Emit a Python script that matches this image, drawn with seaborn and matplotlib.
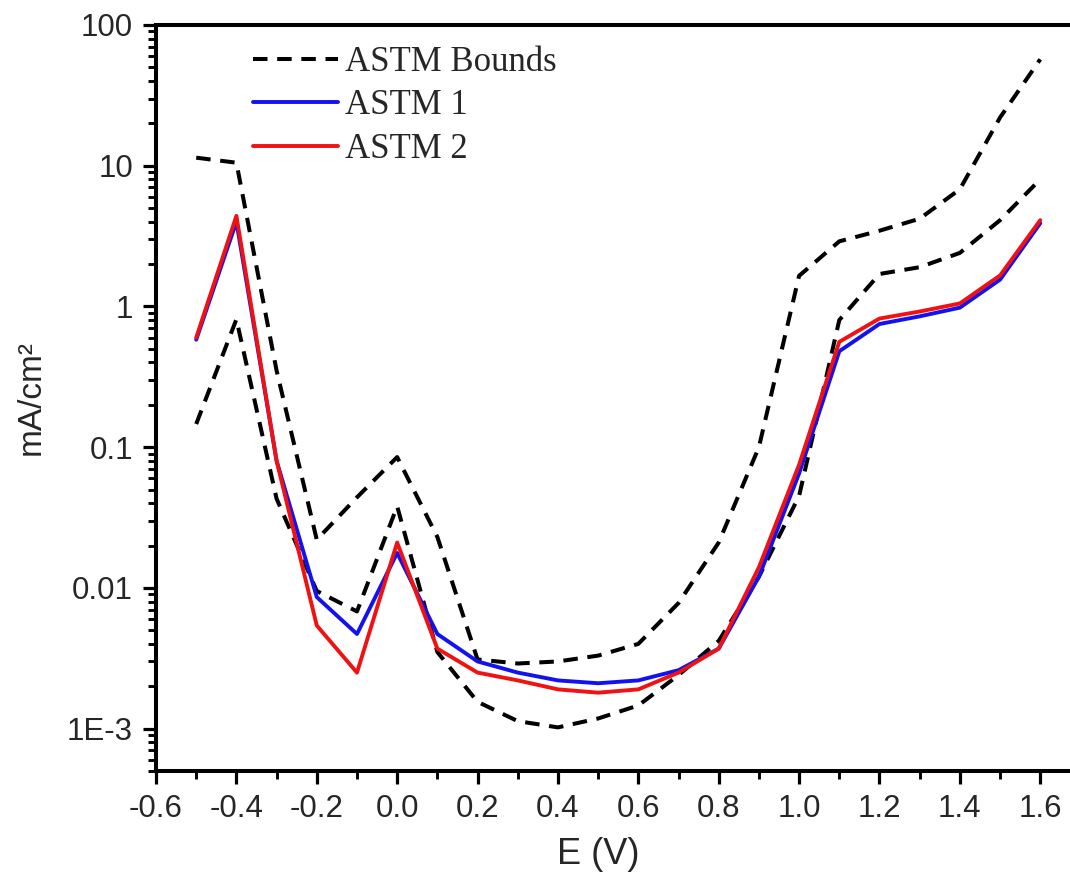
import numpy as np
import pandas as pd
import seaborn as sns
import matplotlib.pyplot as plt
from matplotlib.ticker import FixedLocator, FixedFormatter, MultipleLocator, LogLocator, NullFormatter

# Potential (V)
potential = [-0.5, -0.4, -0.3, -0.2, -0.1, 0.0, 0.1, 0.2, 0.3, 0.4, 0.5,
             0.6, 0.7, 0.8, 0.9, 1.0, 1.1, 1.2, 1.3, 1.4, 1.5, 1.6]

# Current density (mA/cm2)
upper_bound = [11.4, 10.5, 0.35, 0.022, 0.044, 0.085, 0.023, 0.0031, 0.0029, 0.0030, 0.0033,
               0.0040, 0.0078, 0.021, 0.10, 1.65, 2.9, 3.45, 4.2, 6.8, 22.0, 57.0]
lower_bound = [0.146, 0.81, 0.043, 0.0095, 0.0068, 0.038, 0.0035, 0.00155, 0.00113, 0.00102, 0.00118,
               0.00146, 0.0024, 0.0042, 0.012, 0.045, 0.80, 1.7, 1.9, 2.4, 4.1, 8.0]
astm_1 = [0.58, 4.0, 0.08, 0.0086, 0.0047, 0.0177, 0.0047, 0.0030, 0.0025, 0.0022, 0.0021,
          0.0022, 0.0026, 0.0037, 0.012, 0.065, 0.48, 0.75, 0.85, 0.98, 1.55, 3.9]
astm_2 = [0.60, 4.4, 0.08, 0.0054, 0.0025, 0.021, 0.0037, 0.0025, 0.0022, 0.0019, 0.0018,
          0.0019, 0.0025, 0.0037, 0.014, 0.075, 0.56, 0.82, 0.92, 1.05, 1.66, 4.1]

ytick_vals = [1e-3, 1e-2, 1e-1, 1, 10, 100]
ytick_labels = ['1E-3', '0.01', '0.1', '1', '10', '100']

sns.set_style('white')
plt.rcParams['font.family'] = ['Liberation Sans', 'DejaVu Sans']
plt.rcParams['axes.unicode_minus'] = False

df = pd.DataFrame({'E': potential, 'upper': upper_bound, 'lower': lower_bound,
                   'ASTM 1': astm_1, 'ASTM 2': astm_2})

fig = plt.figure(figsize=(10.7, 8.82), dpi=100)
ax = fig.add_axes([0.1458, 0.1259, 0.8542, 0.8458])

# dashed bounds first, measured curves on top
dash = (3.6, 2.4)
sns.lineplot(data=df, x='E', y='upper', ax=ax, color='black', lw=2.9, label='ASTM Bounds')
ax.lines[-1].set_dashes(dash)
sns.lineplot(data=df, x='E', y='lower', ax=ax, color='black', lw=2.9, label='_nolegend_')
ax.lines[-1].set_dashes(dash)
sns.lineplot(data=df, x='E', y='ASTM 1', ax=ax, color='#1212f0', lw=2.8, label='ASTM 1')
sns.lineplot(data=df, x='E', y='ASTM 2', ax=ax, color='#f01212', lw=2.8, label='ASTM 2')

ax.set_yscale('log')
ax.set_xlim(-0.6, 1.674)
ax.set_ylim(5e-4, 100)

ax.yaxis.set_major_locator(FixedLocator(ytick_vals))
ax.yaxis.set_major_formatter(FixedFormatter(ytick_labels))
ax.yaxis.set_minor_locator(LogLocator(base=10, subs=np.arange(2, 10)))
ax.yaxis.set_minor_formatter(NullFormatter())
ax.xaxis.set_major_locator(MultipleLocator(0.2))
ax.xaxis.set_minor_locator(MultipleLocator(0.1))
ax.xaxis.set_major_formatter(plt.FuncFormatter(lambda v, p: f'{v:.1f}'))

for side in ['left', 'bottom', 'top']:
    ax.spines[side].set_linewidth(2.9)
    ax.spines[side].set_color('black')
ax.spines['right'].set_visible(False)

ax.tick_params(which='major', direction='out', length=9.5, width=2.3, labelsize=22.5,
               pad=7, color='black', left=True, bottom=True)
ax.tick_params(which='minor', direction='out', length=5.5, width=2.1, color='black',
               left=True, bottom=True)

ax.set_xlabel('E (V)', fontsize=26)
ax.set_ylabel('mA/cm²', fontsize=24)
ax.xaxis.set_label_coords(0.484, -0.088)
ax.yaxis.set_label_coords(-0.12, 0.5)

ax.legend(loc='upper left', bbox_to_anchor=(0.106, 0.972), frameon=False,
          prop={'family': 'Liberation Serif', 'size': 25},
          handlelength=2.45, handletextpad=0.2, labelspacing=0.3,
          borderpad=0, borderaxespad=0)

fig.savefig('out.png', dpi=100)
